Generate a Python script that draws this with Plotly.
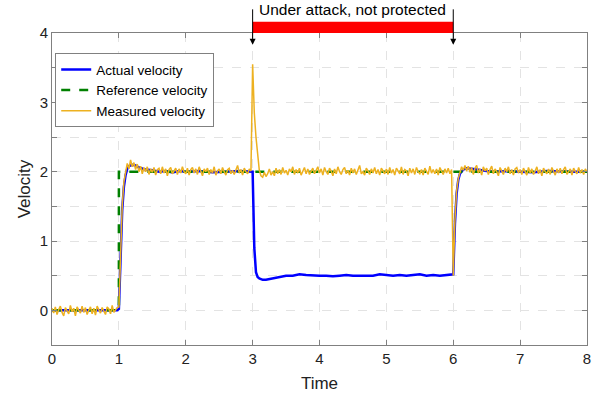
import plotly.graph_objects as go

# ---------------- data ----------------
# Reference velocity (step)
t_ref = [0, 1.0, 1.0, 8.0]
v_ref = [0, 0, 2, 2]

# Actual velocity
t_act = [0, 0.5, 0.975, 1.0, 1.025, 1.05, 1.075, 1.1, 1.125, 1.15, 1.2, 1.25, 1.3, 1.4, 1.5,
         1.6, 1.7, 1.8, 1.9, 2.0, 2.2, 2.4, 2.6, 2.8, 3.0, 3.025, 3.05, 3.075, 3.1, 3.15, 3.2,
         3.25, 3.3, 3.35, 3.4, 3.5, 3.6, 3.7, 3.8, 3.9, 4.0, 4.1, 4.2, 4.3, 4.4, 4.5, 4.6, 4.7,
         4.8, 4.9, 5.0, 5.1, 5.2, 5.3, 5.4, 5.5, 5.6, 5.7, 5.8, 5.9, 5.975, 6.0, 6.025, 6.05,
         6.075, 6.1, 6.15, 6.2, 6.3, 6.4, 6.5, 6.6, 6.8, 7.0, 7.2, 7.4, 7.6, 7.8, 8.0]
v_act = [0, 0, 0, 0.02, 0.85, 1.45, 1.78, 1.95, 2.04, 2.08, 2.1, 2.09, 2.06, 2.03, 2.02,
         2.0, 2.01, 1.99, 2.01, 2.0, 2.01, 1.99, 2.0, 2.01, 2.0, 0.9, 0.55, 0.48, 0.46, 0.44, 0.44,
         0.45, 0.47, 0.48, 0.49, 0.5, 0.5, 0.52, 0.51, 0.5, 0.5, 0.5, 0.49, 0.5, 0.51, 0.5, 0.5, 0.51,
         0.5, 0.52, 0.51, 0.5, 0.51, 0.5, 0.51, 0.52, 0.5, 0.51, 0.5, 0.51, 0.52, 0.52, 1.25, 1.68,
         1.88, 1.97, 2.03, 2.05, 2.04, 2.02, 2.01, 2.0, 2.01, 2.0, 1.99, 2.01, 2.0, 2.0, 2.0]

# Measured velocity, sampled every 0.025 s from 0 to 8
t_meas_start, t_meas_step = 0.0, 0.025
m0 = [0.03, -0.04, 0.05, -0.06, 0.01, 0.06, -0.03, -0.08, 0.04, 0.00, -0.05, 0.07, -0.02, 0.03,
      -0.08, 0.05, 0.01, -0.04, 0.06, -0.03, 0.04, -0.06, 0.00, 0.05, -0.05, 0.03, -0.07, 0.06,
      0.01, -0.04, 0.04, -0.02, -0.06, 0.05, 0.02, -0.05, 0.07, -0.03, 0.01, 0.04]
m1 = [0.05, 0.95, 1.5, 1.85, 1.98, 2.12, 2.04, 2.17, 2.07, 2.13, 2.03, 2.11, 2.0, 2.08, 1.97,
      2.06, 2.0, 2.07, 1.96, 2.04, 1.99, 2.06, 1.95, 2.03, 2.05, 1.97, 2.07, 1.98, 2.04, 1.94,
      2.03, 2.06, 1.97, 2.02, 2.05, 1.96, 2.04, 1.98, 2.07, 2.0]
m2 = [1.97, 2.05, 1.95, 2.03, 2.06, 1.98, 2.04, 1.96, 2.07, 2.01, 1.94, 2.04, 2.0, 2.05, 1.96,
      2.03, 1.98, 2.07, 1.95, 2.01, 2.04, 1.97, 2.06, 2.0, 1.95, 2.03, 2.05, 1.97, 2.02, 1.96,
      2.04, 2.09, 1.98, 2.03, 1.95, 2.05, 2.0, 1.97, 2.04, 2.01]
m3 = [3.55, 2.85, 2.5, 2.2, 2.02, 1.94, 1.92, 1.99, 1.93, 1.97, 2.04, 1.95, 2.0, 1.94, 2.05,
      1.97, 2.03, 1.96, 2.06, 1.98, 2.02, 1.95, 2.04, 2.0, 2.07, 1.96, 2.03, 1.98, 2.05, 1.95,
      2.01, 2.06, 1.97, 2.04, 1.96, 2.0, 2.05, 1.97, 2.03, 2.07]
m4 = [1.98, 2.04, 1.95, 2.06, 2.0, 1.96, 2.05, 2.01, 1.94, 2.04, 1.97, 2.07, 2.0, 1.96, 2.03,
      2.06, 1.97, 2.02, 1.95, 2.05, 1.98, 2.04, 1.96, 2.03, 2.09, 1.97, 2.0, 1.95, 2.05, 2.01,
      1.96, 2.04, 1.98, 2.06, 1.97, 2.03, 1.95, 2.05, 2.0, 1.97]
m5 = [2.04, 1.96, 2.06, 1.98, 2.03, 1.95, 2.05, 2.0, 1.97, 2.07, 1.96, 2.03, 2.01, 1.94, 2.05,
      1.98, 2.04, 1.96, 2.06, 2.0, 1.97, 2.03, 1.95, 2.05, 2.01, 1.96, 2.08, 1.98, 2.03, 1.97,
      2.04, 1.95, 2.06, 2.0, 1.96, 2.04, 1.98, 2.05, 1.97, 2.03]
m6 = [0.5, 1.3, 1.72, 1.9, 2.0, 2.07, 2.02, 2.09, 2.01, 2.08, 1.99, 2.06, 1.96, 2.05, 2.09,
      1.98, 2.04, 1.95, 2.07, 2.01, 2.05, 1.96, 2.03, 2.08, 1.97, 2.04, 2.0, 1.94, 2.06, 2.01,
      1.96, 2.05, 2.0, 2.07, 1.97, 2.03, 1.95, 2.04, 2.06, 1.98]
m7 = [2.03, 1.96, 2.05, 2.0, 1.95, 2.06, 1.98, 2.04, 1.96, 2.01, 2.07, 1.97, 2.03, 1.94, 2.05,
      2.0, 1.97, 2.04, 1.96, 2.06, 2.01, 1.95, 2.04, 1.98, 2.05, 1.97, 2.03, 2.07, 1.96, 2.01,
      2.04, 1.95, 2.05, 2.0, 1.97, 2.06, 1.98, 2.03, 1.96, 2.04, 2.0]
v_meas = m0 + m1 + m2 + m3 + m4 + m5 + m6 + m7
t_meas = [round(t_meas_start + i * t_meas_step, 4) for i in range(len(v_meas))]

x_ticks = [0, 1, 2, 3, 4, 5, 6, 7, 8]
y_tickvals = [-0.5, 0, 0.5, 1, 1.5, 2, 2.5, 3, 3.5, 4]
y_ticktext = ["", "0", "", "1", "", "2", "", "3", "", "4"]

attack_start, attack_end = 3, 6
attack_label = "Under attack, not protected"

# ---------------- figure ----------------
FONT = "Liberation Sans, Arial, Helvetica, sans-serif"
fig = go.Figure()
fig.add_trace(go.Scatter(x=t_act, y=v_act, mode="lines", name="Actual velocity",
                         line=dict(color="#0000FF", width=2.5)))
fig.add_trace(go.Scatter(x=t_ref, y=v_ref, mode="lines", name="Reference velocity",
                         line=dict(color="#008000", width=2.5, dash="dash")))
fig.add_trace(go.Scatter(x=t_meas, y=v_meas, mode="lines", name="Measured velocity",
                         line=dict(color="#EDB120", width=1.5)))

axis_common = dict(showline=True, linecolor="#808080", linewidth=1, mirror="ticks",
                   ticks="inside", ticklen=5, tickcolor="#808080",
                   showgrid=True, gridcolor="#E3E3E3", griddash="dash", gridwidth=1,
                   zeroline=False, automargin=False,
                   tickfont=dict(size=15, color="#222"),
                   title_font=dict(size=17, color="#222"))

fig.update_xaxes(range=[0, 8], tickvals=x_ticks, title_text="Time", title_standoff=11,
                 **axis_common)
fig.update_yaxes(range=[-0.5, 4], tickvals=y_tickvals, ticktext=y_ticktext,
                 title_text="Velocity", title_standoff=4, **axis_common)

# red bar indicating the attack interval
fig.add_shape(type="rect", xref="x", yref="paper", x0=attack_start, x1=attack_end,
              y0=1.0, y1=1.036, fillcolor="#FF0000", line=dict(width=0), layer="above")
for xa in (attack_start, attack_end):
    fig.add_annotation(x=xa, y=0.962, xref="x", yref="paper", text="", showarrow=True,
                       ax=0, ay=-37, axref="pixel", ayref="pixel", arrowhead=2,
                       arrowsize=1.2, arrowwidth=1, arrowcolor="#000000")
fig.add_annotation(x=(attack_start + attack_end) / 2, y=1.075, xref="x", yref="paper",
                   text=attack_label, showarrow=False, font=dict(size=15.5, color="#000"),
                   yanchor="middle")

fig.update_layout(
    width=602, height=398,
    margin=dict(l=52, r=15, t=33, b=53, autoexpand=False),
    paper_bgcolor="white", plot_bgcolor="white",
    font=dict(family=FONT, color="#222"),
    showlegend=True,
    legend=dict(x=0.006, y=0.935, xanchor="left", yanchor="top",
                bgcolor="white", bordercolor="#808080", borderwidth=1,
                font=dict(size=13.5, color="#000"), itemwidth=30,
                tracegroupgap=0),
)

fig.write_html("out.html", config={"displayModeBar": False},
               post_script="document.body.style.margin='0';document.body.style.padding='0';")
